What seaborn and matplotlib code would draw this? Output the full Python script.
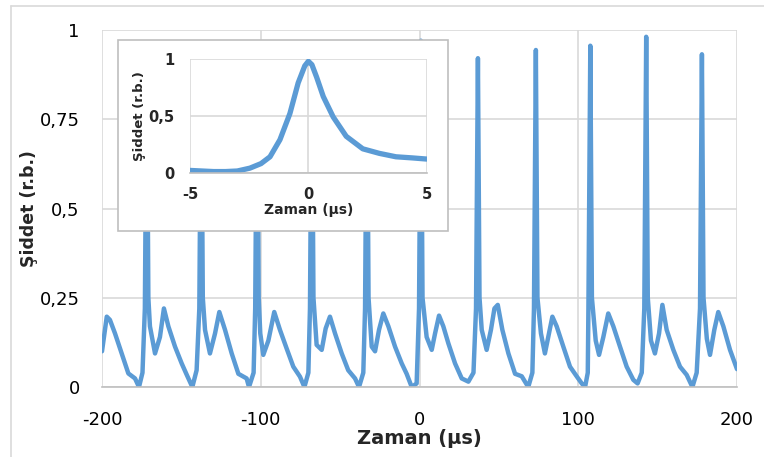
import matplotlib
matplotlib.use("Agg")
import matplotlib.pyplot as plt
import seaborn as sns
from matplotlib.patches import Rectangle
from matplotlib.lines import Line2D

# main trace: pulse train, time in us, intensity in arbitrary units
time_us = [
    -200, -197, -195, -191.8, -187.6, -183.4, -179.2, -176.7, -174.5,
    -173.0, -171.8, -170.8, -169.8, -166.6, -163.5, -161, -158.2, -154, -149.8, -146.6, -143.1, -140.4,
    -138.7, -137.5, -136.5, -135.1, -132, -128.8, -126.1, -122.5, -118.3, -114.1, -108.9, -107.4, -104.5,
    -103.5, -102.3, -101.3, -100.3, -98.4, -95.2, -91.5, -87.9, -83.7, -79.5, -75.3, -72.5, -70,
    -69.0, -67.8, -66.8, -64.8, -61.6, -59.1, -56.4, -53.2, -49, -44.9, -40.6, -38.1, -35.4,
    -34.3, -33.1, -32.1, -30.1, -28, -25.5, -22.8, -19.6, -15.4, -11.2, -8.1, -4.9, -1.8,
    -0.3, 0.9, 1.9, 4.5, 7.7, 9.8, 12.3, 15, 18.2, 22.4, 26.6, 30.8, 34,
    35.6, 36.8, 37.8, 39.2, 42.3, 45, 47.2, 49.3, 52.2, 56, 60.2, 64.4, 68.5, 71.1,
    72.1, 73.3, 74.3, 76.5, 79, 81.1, 83.7, 86.4, 90.6, 94.8, 99, 102.2, 104.3, 106,
    106.4, 107.6, 108.6, 111, 113.1, 115.8, 118.9, 122.1, 126.3, 130.5, 134.7, 137.4, 140,
    141.6, 142.8, 143.8, 145.8, 148.3, 150.9, 153, 155.7, 159.9, 164.1, 168.3, 171.9, 174.6,
    176.7, 177.9, 178.9, 181, 183, 185.7, 188.2, 191.4, 195.6, 200,
]
intensity = [
    0.10, 0.197, 0.188, 0.15, 0.094, 0.038, 0.024, 0.0, 0.04,
    0.22, 0.95, 0.25, 0.17, 0.094, 0.14, 0.22, 0.17, 0.113, 0.066, 0.034, 0.0, 0.047,
    0.22, 0.94, 0.25, 0.16, 0.094, 0.15, 0.21, 0.16, 0.094, 0.037, 0.024, 0.0, 0.04,
    0.22, 0.95, 0.25, 0.15, 0.09, 0.13, 0.21, 0.16, 0.108, 0.057, 0.029, 0.0, 0.04,
    0.22, 0.96, 0.25, 0.118, 0.104, 0.164, 0.197, 0.15, 0.094, 0.047, 0.024, 0.0, 0.04,
    0.22, 0.95, 0.25, 0.113, 0.10, 0.16, 0.206, 0.17, 0.113, 0.066, 0.037, 0.0, 0.01,
    0.22, 0.97, 0.25, 0.14, 0.104, 0.15, 0.20, 0.17, 0.122, 0.066, 0.024, 0.015, 0.04,
    0.22, 0.921, 0.25, 0.16, 0.104, 0.16, 0.22, 0.23, 0.16, 0.094, 0.037, 0.03, 0.0, 0.04,
    0.22, 0.944, 0.25, 0.15, 0.094, 0.14, 0.197, 0.17, 0.113, 0.057, 0.03, 0.01, 0.0, 0.04,
    0.22, 0.956, 0.25, 0.13, 0.09, 0.14, 0.206, 0.17, 0.113, 0.057, 0.02, 0.01, 0.04,
    0.22, 0.981, 0.25, 0.13, 0.094, 0.15, 0.23, 0.16, 0.104, 0.057, 0.034, 0.0, 0.04,
    0.22, 0.932, 0.25, 0.135, 0.09, 0.16, 0.21, 0.17, 0.104, 0.05,
]

# inset: single pulse, zoomed
inset_time = [-5, -4.5, -4, -3.5, -3, -2.47, -2.0, -1.62, -1.2, -0.78, -0.43, -0.15, 0,
              0.15, 0.35, 0.63, 1.05, 1.6, 2.3, 3.0, 3.7, 4.4, 5.0]
inset_int = [0.02, 0.015, 0.01, 0.01, 0.015, 0.04, 0.08, 0.14, 0.29, 0.52, 0.79, 0.94, 0.98,
             0.95, 0.84, 0.67, 0.49, 0.32, 0.21, 0.17, 0.14, 0.13, 0.12]

x_ticks = [-200, -100, 0, 100, 200]
y_ticks = [0, 0.25, 0.5, 0.75, 1]
y_ticklabels = ["0", "0,25", "0,5", "0,75", "1"]
inset_x_ticks = [-5, 0, 5]
inset_y_ticks = [0, 0.5, 1]
inset_y_ticklabels = ["0", "0,5", "1"]

sns.set_style("white")
plt.rcParams["font.family"] = ["DejaVu Sans"]
plt.rcParams["axes.unicode_minus"] = False

blue = "#5B9BD5"
grid_c = "#D9D9D9"

fig = plt.figure(figsize=(7.64, 4.57), dpi=100)

# outer chart frame (top and left edges visible)
fig.add_artist(Line2D([11 / 764, 11 / 764], [0, 1 - 6 / 457], transform=fig.transFigure, color=grid_c, lw=1.2))
fig.add_artist(Line2D([11 / 764, 1], [1 - 6 / 457, 1 - 6 / 457], transform=fig.transFigure, color=grid_c, lw=1.2))

ax = fig.add_axes([102 / 764, 1 - 387 / 457, 635 / 764, 357 / 457])
sns.lineplot(x=time_us, y=intensity, ax=ax, sort=False, estimator=None, color=blue, linewidth=3.2)
ax.set_xlim(-200, 200)
ax.set_ylim(0, 1)
ax.set_xticks(x_ticks)
ax.set_yticks(y_ticks)
ax.set_yticklabels(y_ticklabels)
ax.tick_params(axis="both", length=0, labelsize=13, colors="black")
ax.tick_params(axis="x", pad=17)
ax.tick_params(axis="y", pad=16)
ax.grid(True, color=grid_c, lw=1.2)
ax.set_axisbelow(True)
for s in ["left", "top", "right"]:
    ax.spines[s].set_visible(False)
ax.spines["bottom"].set_color("#BFBFBF")
ax.spines["bottom"].set_linewidth(1.2)
ax.set_xlabel("Zaman (µs)", fontsize=14, fontweight="bold", labelpad=0)
ax.set_ylabel("Şiddet (r.b.)", fontsize=12.5, fontweight="bold", labelpad=1)

# inset box
fig.add_artist(Rectangle((118 / 764, 1 - 231 / 457), 330 / 764, 191 / 457,
                         transform=fig.transFigure, facecolor="white",
                         edgecolor="#BFBFBF", lw=1.2, zorder=2))

axi = fig.add_axes([190 / 764, 1 - 172.7 / 457, 236.7 / 764, 113.7 / 457], zorder=3)
axi.patch.set_alpha(0)
sns.lineplot(x=inset_time, y=inset_int, ax=axi, sort=False, estimator=None, color=blue, linewidth=3.8)
axi.set_xlim(-5, 5)
axi.set_ylim(0, 1)
axi.set_xticks(inset_x_ticks)
axi.set_yticks(inset_y_ticks)
axi.set_yticklabels(inset_y_ticklabels)
axi.tick_params(axis="both", length=0, labelsize=10.5)
axi.tick_params(axis="x", pad=10)
axi.tick_params(axis="y", pad=11)
for lab in axi.get_xticklabels() + axi.get_yticklabels():
    lab.set_fontweight("bold")
axi.grid(True, color=grid_c, lw=1.2)
axi.set_axisbelow(True)
for s in ["left", "top", "right"]:
    axi.spines[s].set_visible(False)
axi.spines["bottom"].set_color("#BFBFBF")
axi.spines["bottom"].set_linewidth(1.2)
axi.set_xlabel("Zaman (µs)", fontsize=10, fontweight="bold", labelpad=1)
axi.set_ylabel("Şiddet (r.b.)", fontsize=9.5, fontweight="bold", labelpad=2)

fig.savefig("out.png", dpi=100)
